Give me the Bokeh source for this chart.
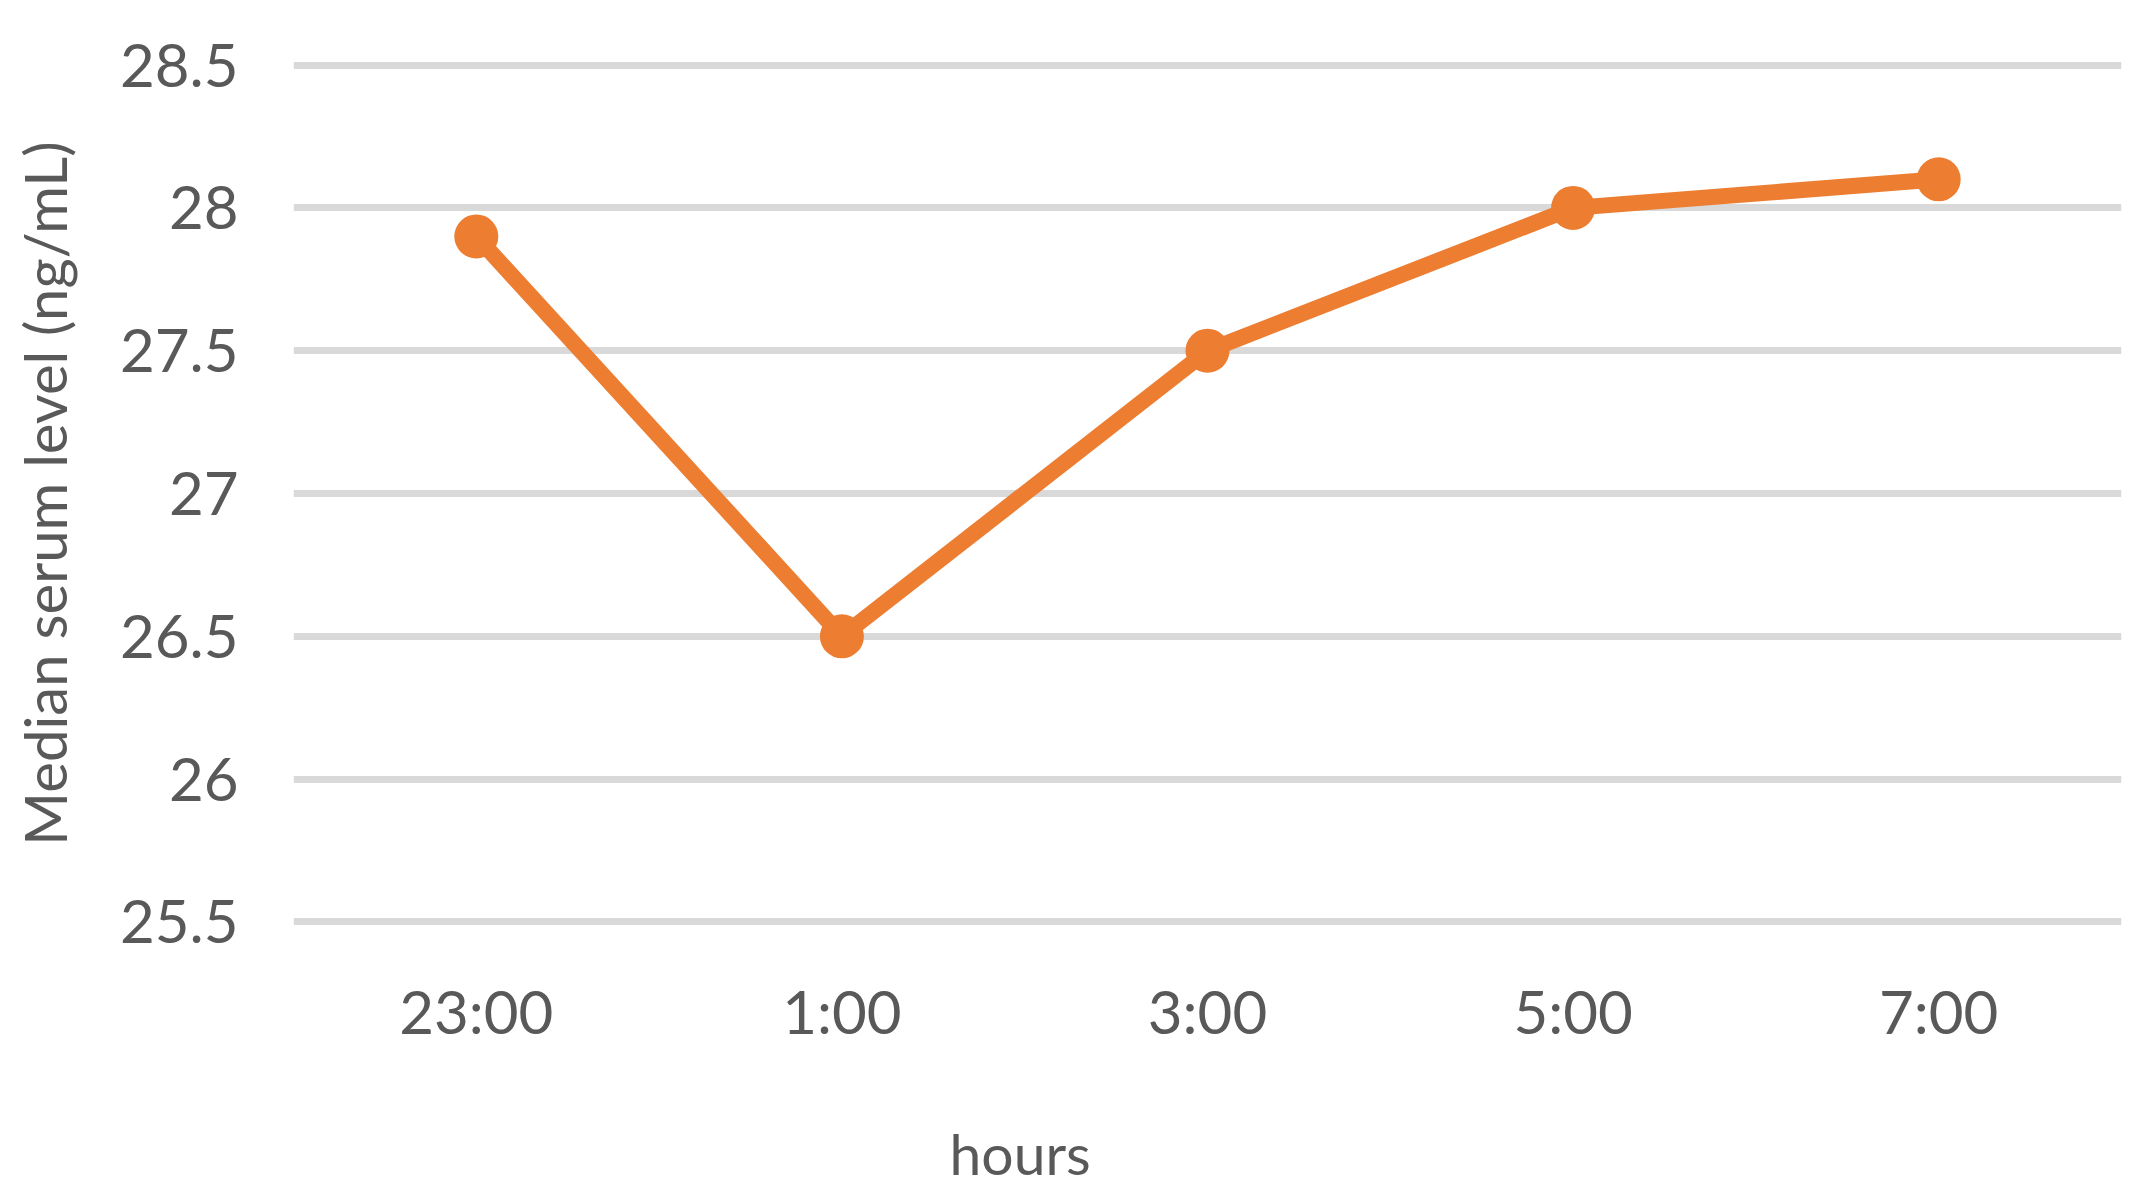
from bokeh.plotting import figure
from bokeh.models import FactorRange, Range1d, Title, SingleIntervalTicker
from bokeh.embed import file_html
from bokeh.resources import INLINE

hours = ["23:00", "1:00", "3:00", "5:00", "7:00"]
median_level = [27.9, 26.5, 27.5, 28.0, 28.1]

FONT = "Lato"
TXT = "#595959"
ORANGE = "#ED7D31"

p = figure(frame_width=1828, frame_height=874, x_range=FactorRange(*hours, range_padding=0),
           y_range=Range1d(25.47, 28.53), output_backend="svg", toolbar_location=None,
           min_border_left=293, min_border_right=14, min_border_top=56, min_border_bottom=200)
p.outline_line_color = None
p.background_fill_color = "white"
p.border_fill_color = "white"

p.line(hours, median_level, line_color=ORANGE, line_width=16, line_join="round")
p.scatter(hours, median_level, size=44, fill_color=ORANGE, line_color=None)

p.yaxis.ticker = SingleIntervalTicker(interval=0.5)
p.ygrid.grid_line_color = "#D9D9D9"
p.ygrid.grid_line_width = 7
p.xgrid.grid_line_color = None

for ax in (p.xaxis[0], p.yaxis[0]):
    ax.axis_line_color = None
    ax.major_tick_line_color = None
    ax.minor_tick_line_color = None
    ax.major_tick_out = 0
    ax.major_tick_in = 0
    ax.major_label_text_font = FONT
    ax.major_label_text_font_size = "60px"
    ax.major_label_text_color = TXT

p.yaxis.major_label_standoff = 51
p.yaxis.axis_label = "Median serum level (ng/mL)"
p.yaxis.axis_label_text_font = FONT
p.yaxis.axis_label_text_font_size = "58px"
p.yaxis.axis_label_text_font_style = "normal"
p.yaxis.axis_label_text_color = TXT
p.yaxis.axis_label_standoff = 38

p.xaxis.major_label_standoff = 44

p.add_layout(Title(text="hours", align="left", offset=656, text_font=FONT,
                   text_font_size="57px", text_font_style="normal", text_color=TXT,
                   standoff=135), "below")

open("out.html", "w").write(file_html(p, INLINE))
